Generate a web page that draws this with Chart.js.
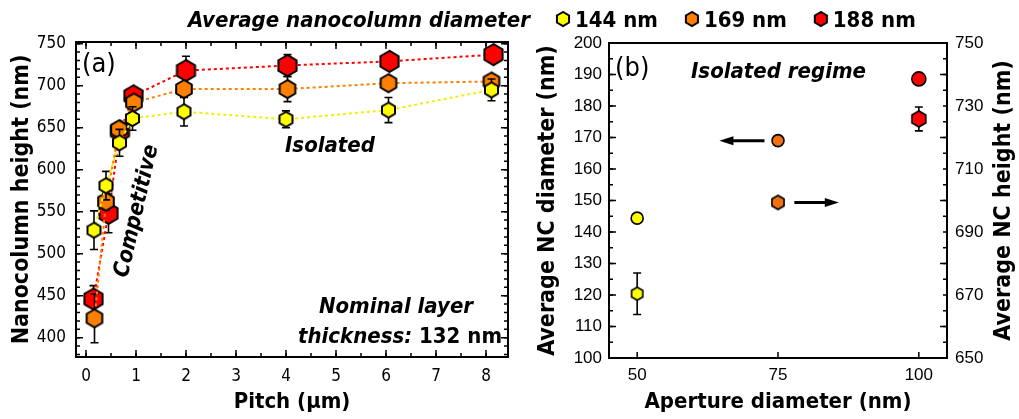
<!DOCTYPE html>
<html>
<head>
<meta charset="utf-8">
<script src="https://cdn.jsdelivr.net/npm/chart.js@4.4.1/dist/chart.umd.min.js"></script>
<style>
html, body { margin: 0; padding: 0; background: #fff; }
#wrap { position: relative; width: 1019px; height: 419px; overflow: hidden; }
#chartA { position: absolute; left: 0; top: 0; }
#chartB { position: absolute; left: 530px; top: 0; }
</style>
</head>
<body>
<div id="wrap">
  <canvas id="chartA" width="1019" height="419"></canvas>
  <canvas id="chartB" width="489" height="419"></canvas>
</div>
<script>
// ---- data, panel (a): nanocolumn height vs pitch ----
const seriesLabels = ['144 nm', '169 nm', '188 nm'];
const pitch144  = [0.16, 0.40, 0.67, 0.93, 1.96, 4.00, 6.05, 8.11];
const height144 = [528, 581, 632, 661, 669, 660, 671, 695];
const err144    = [23, 17, 16, 14, 17, 10, 15, 13];
const pitch169  = [0.17, 0.40, 0.66, 0.96, 1.96, 4.03, 6.05, 8.11];
const height169 = [423, 562, 648, 680, 696, 696, 703, 705];
const err169    = [29, 10, 8, 8, 5, 15, 5, 8];
const pitch188  = [0.15, 0.45, 0.68, 0.95, 2.00, 4.03, 6.07, 8.15];
const height188 = [446, 548, 646, 688, 718, 724, 729, 737];
const err188    = [16, 23, 5, 5, 17, 13, 8, 5];

const pitchTicks  = [0, 1, 2, 3, 4, 5, 6, 7, 8];
const heightTicks = [400, 450, 500, 550, 600, 650, 700, 750];

// ---- data, panel (b): isolated regime vs aperture ----
const apertureSize  = [50, 75, 100];
const ncDiameter    = [144.4, 169.0, 188.6];
const ncDiameterErr = [0.6, 1.2, 1.6];
const ncHeight      = [670.4, 699.4, 725.9];
const ncHeightErr   = [6.6, 1.2, 3.8];
const apertureTicks = [50, 75, 100];
const diameterTicks = [100, 110, 120, 130, 140, 150, 160, 170, 180, 190, 200];
const ncHeightTicks = [650, 670, 690, 710, 730, 750];
// arrows pointing to the axis each series belongs to (data units)
const arrowDiameter = { x: [72.6, 64.6], y: 169 };
const arrowHeight   = { x: [77.9, 85.8], y: 699.4 };

const COND = "'DejaVu Sans Condensed', 'DejaVu Sans', sans-serif";
const ARIAL = "'Liberation Sans', Arial, sans-serif";
const YELLOW = '#ffff00', ORANGE = '#ff8000', RED = '#ff0000';

function hexagon(r, fill, lw) {
  const c = document.createElement('canvas');
  const s = Math.ceil(2 * r + lw + 2);
  c.width = s; c.height = s;
  const g = c.getContext('2d');
  g.beginPath();
  for (let k = 0; k < 6; k++) {
    const a = Math.PI / 2 + k * Math.PI / 3;
    const px = s / 2 + r * Math.cos(a), py = s / 2 - r * Math.sin(a);
    if (k) g.lineTo(px, py); else g.moveTo(px, py);
  }
  g.closePath();
  g.fillStyle = fill;
  g.fill();
  g.lineWidth = lw;
  g.strokeStyle = '#000';
  g.stroke();
  return c;
}

const pts = (xs, ys) => xs.map((x, i) => ({ x: x, y: ys[i] }));

// error bars, drawn just before each dataset so its markers cover them
const errorBars = {
  id: 'errorBars',
  beforeDatasetDraw(chart, args) {
    const ds = chart.data.datasets[args.index];
    if (!ds.errors) return;
    const xs = chart.scales[args.meta.xAxisID], ys = chart.scales[args.meta.yAxisID];
    const ctx = chart.ctx;
    ctx.save();
    ctx.strokeStyle = '#000';
    ctx.lineWidth = 1.6;
    ds.data.forEach((p, i) => {
      const e = ds.errors[i];
      if (!e) return;
      const x = xs.getPixelForValue(p.x);
      const y1 = ys.getPixelForValue(p.y + e), y2 = ys.getPixelForValue(p.y - e);
      ctx.beginPath();
      ctx.moveTo(x, y1); ctx.lineTo(x, y2);
      ctx.moveTo(x - 4, y1); ctx.lineTo(x + 4, y1);
      ctx.moveTo(x - 4, y2); ctx.lineTo(x + 4, y2);
      ctx.stroke();
    });
    ctx.restore();
  }
};

// inward tick marks
function tickMarks(ctx, scale, area, step, len, sides) {
  const n0 = Math.ceil(scale.min / step - 1e-6), n1 = Math.floor(scale.max / step + 1e-6);
  ctx.beginPath();
  for (let n = n0; n <= n1; n++) {
    const p = scale.getPixelForValue(n * step);
    sides.forEach(side => {
      if (side === 'bottom') { ctx.moveTo(p, area.bottom); ctx.lineTo(p, area.bottom - len); }
      if (side === 'top') { ctx.moveTo(p, area.top); ctx.lineTo(p, area.top + len); }
      if (side === 'left') { ctx.moveTo(area.left, p); ctx.lineTo(area.left + len, p); }
      if (side === 'right') { ctx.moveTo(area.right, p); ctx.lineTo(area.right - len, p); }
    });
  }
  ctx.stroke();
}

function fixedTicks(values) {
  return scale => { scale.ticks = values.map(v => ({ value: v })); };
}

const legendHex = [hexagon(7, YELLOW, 2), hexagon(7, ORANGE, 2), hexagon(7, RED, 2)];

const decorA = {
  id: 'decorA',
  afterDraw(chart) {
    const ctx = chart.ctx, a = chart.chartArea;
    ctx.save();
    ctx.strokeStyle = '#000';
    ctx.lineWidth = 2;
    ctx.strokeRect(a.left, a.top, a.width, a.height);
    ctx.lineWidth = 1.5;
    tickMarks(ctx, chart.scales.x, a, 1, 7, ['bottom', 'top']);
    tickMarks(ctx, chart.scales.x, a, 0.5, 4, ['bottom', 'top']);
    tickMarks(ctx, chart.scales.y, a, 50, 7, ['left', 'right']);
    tickMarks(ctx, chart.scales.y, a, 10, 4, ['left', 'right']);

    ctx.fillStyle = '#000';
    ctx.textBaseline = 'alphabetic';
    ctx.textAlign = 'left';
    ctx.font = '27px ' + COND;
    ctx.fillText('(a)', 82, 72);
    ctx.font = 'italic bold 22px ' + COND;
    ctx.fillText('Isolated', 285, 152);
    // nominal thickness note
    ctx.textAlign = 'center';
    ctx.fillText('Nominal layer', 396, 313);
    ctx.textAlign = 'left';
    ctx.font = 'bold 22px ' + COND;
    const val = ' 132 nm';
    const wVal = ctx.measureText(val).width;
    ctx.fillText(val, 502 - wVal, 343);
    ctx.font = 'italic bold 22px ' + COND;
    ctx.textAlign = 'right';
    ctx.fillText('thickness:', 502 - wVal, 343);
    // rotated regime label
    ctx.save();
    ctx.translate(137, 211);
    ctx.rotate(-77 * Math.PI / 180);
    ctx.textAlign = 'center';
    ctx.textBaseline = 'middle';
    ctx.fillText('Competitive', 0, 0);
    ctx.restore();

    // legend across the top
    ctx.textAlign = 'left';
    ctx.font = 'italic bold 22px ' + COND;
    const title = 'Average nanocolumn diameter';
    ctx.fillText(title, 188, 27);
    let x = 188 + ctx.measureText(title).width + 33;
    ctx.font = 'bold 22px ' + COND;
    seriesLabels.forEach((lab, i) => {
      const img = legendHex[i];
      ctx.drawImage(img, x - img.width / 2, 19 - img.height / 2);
      ctx.fillText(lab, x + 12, 27);
      x += 12 + ctx.measureText(lab).width + 34;
    });
    ctx.restore();
  }
};

const decorB = {
  id: 'decorB',
  afterDraw(chart) {
    const ctx = chart.ctx, a = chart.chartArea;
    const sx = chart.scales.x, sy = chart.scales.y, sy2 = chart.scales.y2;
    ctx.save();
    ctx.strokeStyle = '#000';
    ctx.lineWidth = 2;
    ctx.strokeRect(a.left, a.top, a.width, a.height);
    ctx.lineWidth = 1.5;
    ctx.beginPath();
    apertureTicks.forEach(v => {
      const p = sx.getPixelForValue(v);
      ctx.moveTo(p, a.bottom); ctx.lineTo(p, a.bottom - 6);
    });
    ctx.stroke();
    tickMarks(ctx, sy, a, 10, 7, ['left']);
    tickMarks(ctx, sy, a, 5, 4, ['left']);
    tickMarks(ctx, sy2, a, 20, 7, ['right']);
    tickMarks(ctx, sy2, a, 5, 4, ['right']);

    // arrows
    ctx.fillStyle = '#000';
    ctx.lineWidth = 3;
    [[arrowDiameter, sy], [arrowHeight, sy2]].forEach(([ar, ys]) => {
      const x0 = sx.getPixelForValue(ar.x[0]), x1 = sx.getPixelForValue(ar.x[1]);
      const y = ys.getPixelForValue(ar.y);
      const dir = Math.sign(x1 - x0);
      ctx.beginPath();
      ctx.moveTo(x0, y); ctx.lineTo(x1 - dir * 10, y);
      ctx.stroke();
      ctx.beginPath();
      ctx.moveTo(x1, y);
      ctx.lineTo(x1 - dir * 14, y - 4.5);
      ctx.lineTo(x1 - dir * 14, y + 4.5);
      ctx.closePath();
      ctx.fill();
    });

    ctx.textBaseline = 'alphabetic';
    ctx.textAlign = 'left';
    ctx.font = '27px ' + COND;
    ctx.fillText('(b)', 85, 76);
    ctx.font = 'italic bold 22px ' + COND;
    ctx.fillText('Isolated regime', 161, 78);

    // right axis title, reading bottom to top
    ctx.save();
    ctx.translate(474, (a.top + a.bottom) / 2);
    ctx.rotate(-Math.PI / 2);
    ctx.textAlign = 'center';
    ctx.textBaseline = 'middle';
    ctx.font = 'bold 23px ' + COND;
    ctx.fillText('Average NC height (nm)', 0, 0);
    ctx.restore();
    ctx.restore();
  }
};

const tickFontA = { family: COND, size: 17 };
const titleFont = (size) => ({ family: COND, size: size, weight: 'bold', lineHeight: 1 });

new Chart(document.getElementById('chartA'), {
  type: 'scatter',
  data: {
    datasets: [
      { label: seriesLabels[0], data: pts(pitch144, height144), errors: err144,
        showLine: true, borderColor: '#f0f000', borderWidth: 2, borderDash: [3, 3],
        pointStyle: hexagon(7.5, YELLOW, 2), pointRadius: 8 },
      { label: seriesLabels[1], data: pts(pitch169, height169), errors: err169,
        showLine: true, borderColor: ORANGE, borderWidth: 2, borderDash: [3, 3],
        pointStyle: hexagon(9, ORANGE, 2), pointRadius: 9 },
      { label: seriesLabels[2], data: pts(pitch188, height188), errors: err188,
        showLine: true, borderColor: RED, borderWidth: 2, borderDash: [3, 3],
        pointStyle: hexagon(10.5, RED, 2), pointRadius: 11 }
    ]
  },
  options: {
    responsive: false,
    animation: false,
    events: [],
    layout: { padding: { top: 42, right: 511, left: 0, bottom: 0 } },
    plugins: { legend: { display: false }, tooltip: { enabled: false } },
    scales: {
      x: {
        type: 'linear', min: -0.2, max: 8.44,
        afterBuildTicks: fixedTicks(pitchTicks),
        afterFit: s => { s.height = 62; },
        grid: { display: false, drawTicks: false },
        border: { display: false },
        ticks: { font: tickFontA, color: '#000', padding: 9 },
        title: { display: true, text: 'Pitch (μm)', color: '#000', font: titleFont(22), padding: { top: 0, bottom: 6 } }
      },
      y: {
        type: 'linear', min: 377, max: 752,
        afterBuildTicks: fixedTicks(heightTicks),
        afterFit: s => { s.width = 76; },
        grid: { display: false, drawTicks: false },
        border: { display: false },
        ticks: { font: tickFontA, color: '#000', padding: 10 },
        title: { display: true, text: 'Nanocolumn height (nm)', color: '#000', font: titleFont(23), padding: { top: 11, bottom: 0 } }
      }
    }
  },
  plugins: [errorBars, decorA]
});

const tickFontB = { family: ARIAL, size: 17 };
const ORANGE_B = '#f07010';

new Chart(document.getElementById('chartB'), {
  type: 'scatter',
  data: {
    datasets: [
      { label: 'Average NC diameter', data: pts(apertureSize, ncDiameter), errors: ncDiameterErr,
        yAxisID: 'y', pointStyle: 'circle', pointRadius: [6, 6, 7],
        pointBackgroundColor: [YELLOW, ORANGE_B, RED], pointBorderColor: '#000', pointBorderWidth: 1.6 },
      { label: 'Average NC height', data: pts(apertureSize, ncHeight), errors: ncHeightErr,
        yAxisID: 'y2',
        pointStyle: [hexagon(6.5, YELLOW, 1.6), hexagon(7, ORANGE_B, 1.6), hexagon(8, RED, 1.6)],
        pointRadius: 8 }
    ]
  },
  options: {
    responsive: false,
    animation: false,
    events: [],
    layout: { padding: { top: 43, right: 0, left: 0, bottom: 0 } },
    plugins: { legend: { display: false }, tooltip: { enabled: false } },
    scales: {
      x: {
        type: 'linear', min: 45, max: 105,
        afterBuildTicks: fixedTicks(apertureTicks),
        afterFit: s => { s.height = 61; },
        grid: { display: false, drawTicks: false },
        border: { display: false },
        ticks: { font: tickFontB, color: '#000', padding: 7 },
        title: { display: true, text: 'Aperture diameter (nm)', color: '#000', font: titleFont(22), padding: { top: 0, bottom: 6 } }
      },
      y: {
        type: 'linear', position: 'left', min: 100, max: 200,
        afterBuildTicks: fixedTicks(diameterTicks),
        afterFit: s => { s.width = 79; },
        grid: { display: false, drawTicks: false },
        border: { display: false },
        ticks: { font: tickFontB, color: '#000', padding: 7 },
        title: { display: true, text: 'Average NC diameter (nm)', color: '#000', font: titleFont(23), padding: { top: 7, bottom: 0 } }
      },
      y2: {
        type: 'linear', position: 'right', min: 650, max: 750,
        afterBuildTicks: fixedTicks(ncHeightTicks),
        afterFit: s => { s.width = 72; },
        grid: { display: false, drawTicks: false },
        border: { display: false },
        ticks: { font: tickFontB, color: '#000', padding: 8 },
        title: { display: false }
      }
    }
  },
  plugins: [errorBars, decorB]
});
</script>
</body>
</html>
